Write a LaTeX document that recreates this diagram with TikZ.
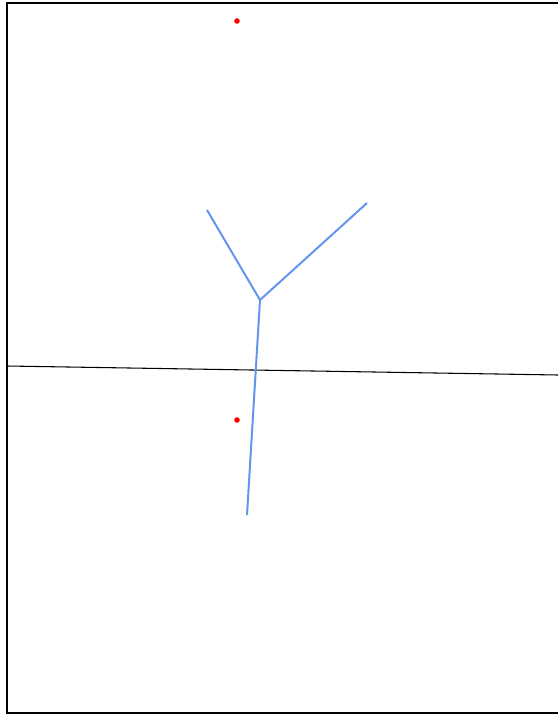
\documentclass[tikz,border=0pt]{standalone}
\usepackage{xcolor}
\usepackage{tikz}
\definecolor{branchblue}{RGB}{100,149,237}
\definecolor{pointred}{RGB}{255,0,0}
\tikzstyle{branch} = [draw=branchblue, line width=1.5pt]
\tikzstyle{frameline} = [draw=black, line width=1.5pt]
\begin{document}
\begin{tikzpicture}[x=0.75pt, y=-0.75pt]
    \useasboundingbox (0,0) rectangle (558,714);
    % frame, open on the right
    \draw[frameline] (558,3) -- (7,3) -- (7,713) -- (558,713);
    % horizontal line
    \coordinate (hleft) at (7,366);
    \coordinate (hright) at (558,375);
    \draw[line width=0.8pt] (hleft) -- (hright);

    % branches
    \coordinate (junction) at (260,300);
    \coordinate (armleft) at (207,210);
    \coordinate (armright) at (367,203);
    \coordinate (stem) at (247,515);
    \draw[branch] (junction) -- (armleft);
    \draw[branch] (junction) -- (armright);
    \draw[branch] (junction) -- (stem);

    % points
    \fill[pointred] (237,21) circle (2.8);
    \fill[pointred] (237,420) circle (2.8);
\end{tikzpicture}
\end{document}
